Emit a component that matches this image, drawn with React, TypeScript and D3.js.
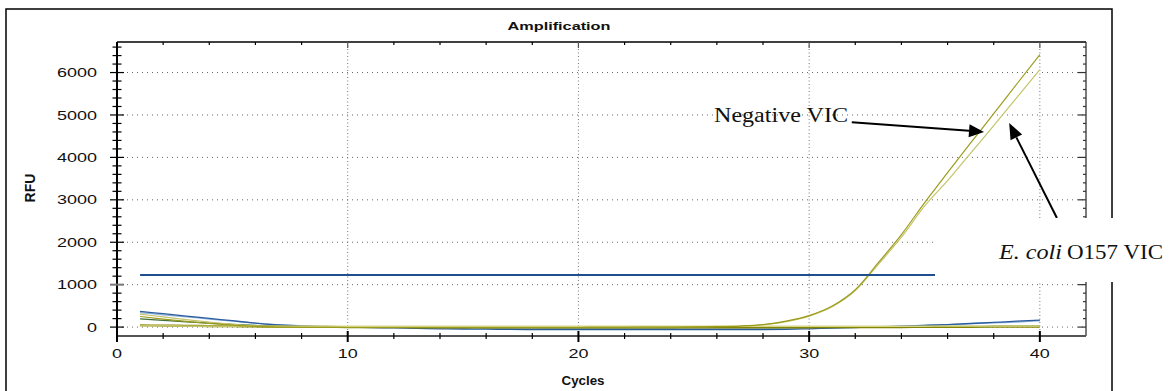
import React from "react";
import * as d3 from "d3";

// cycles 1..40
const cycles = [1,2,3,4,5,6,7,8,9,10,11,12,13,14,15,16,17,18,19,20,21,22,23,24,25,26,27,28,29,30,31,32,33,34,35,36,37,38,39,40];

// amplified wells (RFU per cycle)
const negativeVic = [250,190,135,85,45,15,0,-5,-5,-10,-10,-10,-10,-10,-10,-10,-10,-10,-10,-10,-5,-5,0,0,5,10,25,60,140,270,495,880,1520,2180,2930,3640,4340,5030,5730,6420];
const ecoliVic = [305,240,175,115,65,25,5,0,0,-5,-5,-5,-5,-5,-5,-5,-5,-5,-5,-5,0,0,0,5,10,15,20,55,130,260,480,860,1480,2120,2850,3450,4100,4750,5410,6070];

// flat wells
const blueA = [370,315,260,205,150,95,50,25,10,0,-10,-20,-30,-40,-45,-50,-55,-60,-60,-60,-60,-60,-60,-60,-60,-60,-60,-60,-55,-40,-25,-10,5,20,40,60,85,110,140,165];
const blueB = [340,290,240,190,140,95,55,30,15,5,0,-5,-10,-15,-20,-20,-25,-25,-30,-30,-30,-30,-30,-30,-30,-30,-30,-30,-25,-20,-10,0,10,25,40,60,80,100,120,150];
const greenC = [195,160,125,95,65,40,20,10,5,0,0,0,-5,-5,-5,-10,-10,-10,-10,-10,-10,-10,-10,-10,-5,-5,0,0,0,0,0,5,5,5,10,10,10,15,15,15];
const oliveD = [40,35,30,25,20,15,10,5,5,0,0,0,-5,-5,-10,-10,-10,-10,-10,-10,-10,-10,-10,-10,-10,-10,-10,-10,-5,-5,0,0,0,0,5,5,5,10,10,10];
const yellowE = [30,30,25,25,25,20,20,20,20,20,20,20,20,20,20,20,20,20,20,20,20,20,20,20,20,20,20,20,20,20,20,20,20,20,20,25,25,25,25,25];

const threshold = 1230;

const xTicks = [0, 10, 20, 30, 40];
const yTicks = [0, 1000, 2000, 3000, 4000, 5000, 6000];

const series = [
  { values: blueB, color: "#8fb2dc", width: 1.3 },
  { values: blueA, color: "#2b5c9e", width: 1.3 },
  { values: greenC, color: "#3f6f3a", width: 1.3 },
  { values: oliveD, color: "#858500", width: 2.2 },
  { values: yellowE, color: "#d6d68a", width: 1.3 },
  { values: ecoliVic, color: "#c4c46c", width: 1.2 },
  { values: negativeVic, color: "#9c9c1c", width: 1.2 },
];

export default function App() {
  const W = 1173, H = 391;
  const x = d3.scaleLinear().domain([0, 42]).range([117, 1086]);
  const y = d3.scaleLinear().domain([-210, 6720]).range([336, 42]);
  const [x0, x1] = x.range();
  const [yb, yt] = y.range();

  const line = d3.line<number>()
    .x((_, i) => x(cycles[i]))
    .y(d => y(d))
    .curve(d3.curveMonotoneX);

  const minorY = d3.range(0, 6700, 200);
  const minorX = d3.range(2, 42, 2);

  // annotation anchors in data space
  const arrow1 = { from: [31.85, 4830], to: [37.58, 4600] };
  const arrow2 = { from: [40.74, 2570], to: [38.67, 4810] };

  const arrowPath = (a: { from: number[]; to: number[] }, len: number, half: number) => {
    const fx = x(a.from[0]), fy = y(a.from[1]);
    const tx = x(a.to[0]), ty = y(a.to[1]);
    const ang = Math.atan2(ty - fy, tx - fx);
    const bx = tx - len * Math.cos(ang), by = ty - len * Math.sin(ang);
    const px = -Math.sin(ang) * half, py = Math.cos(ang) * half;
    return {
      line: [fx, fy, bx, by],
      head: `${tx},${ty} ${bx + px},${by + py} ${bx - px},${by - py}`,
    };
  };
  const a1 = arrowPath(arrow1, 15, 6.5);
  const a2 = arrowPath(arrow2, 16, 6.5);

  const sans = "'Liberation Sans', Arial, sans-serif";
  const serif = "'Liberation Serif', 'DejaVu Serif', serif";

  return (
    <svg width={W} height={H} style={{ position: "absolute", left: 0, top: 0, background: "#fff" }}>
      {/* grid */}
      {yTicks.map(t => (
        <line key={"gy" + t} x1={x0} x2={x1} y1={y(t)} y2={y(t)} stroke="#666" strokeWidth={1} strokeDasharray="1,4" />
      ))}
      {xTicks.filter(t => t > 0).map(t => (
        <line key={"gx" + t} x1={x(t)} x2={x(t)} y1={yt} y2={yb} stroke="#777" strokeWidth={1} strokeDasharray="1,2.5" />
      ))}

      {/* curves */}
      {series.map((s, i) => (
        <path key={"s" + i} d={line(s.values) || ""} fill="none" stroke={s.color} strokeWidth={s.width} />
      ))}
      <line x1={x(1)} x2={x(40)} y1={y(threshold)} y2={y(threshold)} stroke="#1f4f8e" strokeWidth={2} />

      {/* plot border + ticks */}
      <line x1={x0} x2={x1} y1={yt} y2={yt} stroke="#000" strokeWidth={1.5} />
      <line x1={x1} x2={x1} y1={yt} y2={yb} stroke="#222" strokeWidth={1.2} />
      <line x1={x0} x2={x1} y1={yb} y2={yb} stroke="#555" strokeWidth={2} />
      <line x1={x0} x2={x0} y1={yt} y2={yb + 6} stroke="#000" strokeWidth={2} />

      {minorY.map(t => {
        const major = t % 1000 === 0;
        return (
          <g key={"ty" + t}>
            <line x1={x0 - (major ? 7 : 4.5)} x2={x0 + (major ? 7 : 4.5)} y1={y(t)} y2={y(t)} stroke={t === 1000 ? "#777" : "#000"} strokeWidth={t === 1000 ? 2 : 1.2} />
            <line x1={x1 - (major ? 8 : 3)} x2={x1} y1={y(t)} y2={y(t)} stroke="#333" strokeWidth={1.2} />
          </g>
        );
      })}
      {minorX.map(t => {
        const major = t % 10 === 0;
        return (
          <g key={"tx" + t}>
            <line x1={x(t)} x2={x(t)} y1={yb - (major ? 5 : 3)} y2={yb + (major ? 6 : 3)} stroke="#000" strokeWidth={major ? 2 : 1.2} />
            <line x1={x(t)} x2={x(t)} y1={yt} y2={yt + (major ? 6 : 3)} stroke={major ? "#555" : "#000"} strokeWidth={1.2} />
          </g>
        );
      })}

      {/* tick labels */}
      {yTicks.map(t => {
        const s = String(t);
        return (
          <text key={"ly" + t} x={97} y={y(t) + 4.6} textAnchor="end" fontFamily={sans} fontSize={13}
            textLength={s.length * 10} lengthAdjust="spacingAndGlyphs" fill="#111">{s}</text>
        );
      })}
      {xTicks.map(t => {
        const s = String(t);
        return (
          <text key={"lx" + t} x={x(t)} y={358} textAnchor="middle" fontFamily={sans} fontSize={13}
            textLength={s.length * 10} lengthAdjust="spacingAndGlyphs" fill="#111">{s}</text>
        );
      })}

      {/* titles */}
      <text x={559} y={30} textAnchor="middle" fontFamily={sans} fontSize={11.5} fontWeight="bold"
        textLength={103} lengthAdjust="spacingAndGlyphs" fill="#111">Amplification</text>
      <text x={583} y={385} textAnchor="middle" fontFamily={sans} fontSize={12} fontWeight="bold"
        textLength={43} lengthAdjust="spacingAndGlyphs" fill="#111">Cycles</text>
      <text transform="translate(35,188) rotate(-90)" textAnchor="middle" fontFamily={sans} fontSize={14} fontWeight="bold"
        fill="#111">RFU</text>

      {/* outer frame */}
      <rect x={6} y={9} width={1106} height={400} fill="none" stroke="#000" strokeWidth={1.5} />

      {/* annotations */}
      <line x1={a1.line[0]} y1={a1.line[1]} x2={a1.line[2]} y2={a1.line[3]} stroke="#000" strokeWidth={2} />
      <polygon points={a1.head} fill="#000" />
      <line x1={a2.line[0]} y1={a2.line[1]} x2={a2.line[2]} y2={a2.line[3]} stroke="#000" strokeWidth={2} />
      <polygon points={a2.head} fill="#000" />
      <text x={714} y={122} fontFamily={serif} fontSize={20} textLength={134} lengthAdjust="spacingAndGlyphs" fill="#111">Negative VIC</text>

      <rect x={935} y={218} width={W - 935} height={64} fill="#fff" />
      <text x={999} y={259} fontFamily={serif} fontSize={20} fontStyle="italic" textLength={63} lengthAdjust="spacingAndGlyphs" fill="#111">E. coli</text>
      <text x={1067} y={259} fontFamily={serif} fontSize={20} textLength={96} lengthAdjust="spacingAndGlyphs" fill="#111">O157 VIC</text>
    </svg>
  );
}
